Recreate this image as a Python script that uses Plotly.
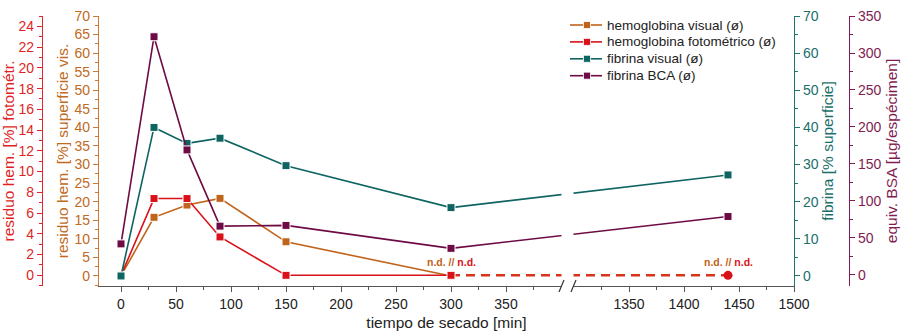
import plotly.graph_objects as go

# ---------------- data ----------------
t_min = [0, 30, 60, 90, 150, 300, 1440]
hem_visual = [0, 15.8, 19.1, 20.9, 9.2, 0]        # % superficie (t up to 300)
hem_foto = [0, 7.4, 7.4, 3.7, 0, 0]               # % fotométr. (t up to 300)
nd_t = [300, 1440]                                # n.d. segment
nd_val = [0, 0]
fib_visual = [0, 40.0, 35.7, 37.1, 29.7, 18.4, 27.2]   # % superficie
fib_bca = [42, 322, 169, 66, 67, 36, 79]               # µg/espécimen

series_names = ["hemoglobina visual (ø)", "hemoglobina fotométrico (ø)",
                "fibrina visual (ø)", "fibrina BCA (ø)"]

x_major = [0, 50, 100, 150, 200, 250, 300, 350, 1350, 1400, 1450, 1500]
x_minor = [25, 75, 125, 175, 225, 275, 325, 375, 1325, 1375, 1425, 1475]

# axis break: 400 ... 1300
BREAK_LO, BREAK_HI, GAP = 400, 1300, 11.8


def brk(v):
    return v if v <= BREAK_LO else v - BREAK_HI + BREAK_LO + GAP


def tx(seq):
    return [brk(v) for v in seq]


ORANGE = "#c0631b"
RED = "#d9121a"
TEAL = "#0e6461"
MAROON = "#6e0b45"
COLORS = [ORANGE, RED, TEAL, MAROON]
FONT = "Liberation Sans, Arial, sans-serif"

mk = dict(symbol="square", size=8, line=dict(color="white", width=1))

fig = go.Figure()
fig.add_trace(go.Scatter(x=tx(t_min[:len(hem_visual)]), y=hem_visual, yaxis="y",
                         mode="lines+markers", name=series_names[0],
                         line=dict(color=ORANGE, width=1.6), marker=dict(color=ORANGE, **mk)))
fig.add_trace(go.Scatter(x=tx(nd_t), y=nd_val, yaxis="y2", mode="lines", showlegend=False,
                         line=dict(color="#d8341c", width=2.6, dash="9px,6px")))
fig.add_trace(go.Scatter(x=tx(t_min[:len(hem_foto)]), y=hem_foto, yaxis="y2",
                         mode="lines+markers", name=series_names[1],
                         line=dict(color=RED, width=1.6), marker=dict(color=RED, **mk)))
fig.add_trace(go.Scatter(x=tx(nd_t[1:]), y=nd_val[1:], yaxis="y2", mode="markers", showlegend=False,
                         marker=dict(color=RED, symbol="circle", size=9)))
fig.add_trace(go.Scatter(x=tx(t_min), y=fib_visual, yaxis="y3",
                         mode="lines+markers", name=series_names[2],
                         line=dict(color=TEAL, width=1.6), marker=dict(color=TEAL, **mk)))
fig.add_trace(go.Scatter(x=tx(t_min), y=fib_bca, yaxis="y4",
                         mode="lines+markers", name=series_names[3],
                         line=dict(color=MAROON, width=1.6), marker=dict(color=MAROON, **mk)))

L, R = 42, 58
W, H = 907, 333
pw = W - L - R
x0 = (99 - L) / pw
x1 = (794 - L) / pw


def yax(color, tcolor, rng, dtick, minor_dtick, title, side, **kw):
    return dict(range=rng, dtick=dtick, tick0=0, showgrid=False, zeroline=False,
                showline=True, linecolor=color, linewidth=1.3,
                ticks="outside", ticklen=5, tickcolor=color, tickwidth=1.2,
                minor=dict(dtick=minor_dtick, tick0=0, ticks="outside", ticklen=3,
                           tickcolor=color, tickwidth=1.2),
                tickfont=dict(family=FONT, size=14, color=tcolor),
                title=dict(text=title, font=dict(family=FONT, size=15.5, color=tcolor)),
                side=side, automargin=False, **kw)


fig.update_layout(
    width=W, height=H,
    margin=dict(l=L, r=R, t=16, b=47),
    paper_bgcolor="white", plot_bgcolor="white",
    font=dict(family=FONT, size=14, color="#222"),
    showlegend=False,
    xaxis=dict(domain=[x0, x1], range=[-20, brk(1500)],
               tickmode="array", tickvals=tx(x_major), ticktext=[str(v) for v in x_major],
               showgrid=False, zeroline=False, showline=True, linecolor="#555", linewidth=1.3,
               ticks="outside", ticklen=5, tickcolor="#555", tickwidth=1.2,
               minor=dict(tickmode="array", tickvals=tx(x_minor), ticks="outside", ticklen=3,
                          tickcolor="#555", tickwidth=1.2),
               tickfont=dict(family=FONT, size=14, color="#222"),
               title=dict(text="tiempo de secado [min]", font=dict(family=FONT, size=15.5, color="#222"),
                          standoff=6),
               automargin=False),
    yaxis=yax("#c97a36", "#c06a22", [-2.7, 70], 5, 2.5,
              "residuo hem. [%] superficie vis.", "left", anchor="x"),
    yaxis2=yax("#e0242a", "#e01f26", [-1.03, 25], 2, 1,
               "residuo hem. [%] fotométr.", "left", anchor="free", position=0, overlaying="y"),
    yaxis3=yax("#1f7470", "#1a6f6c", [-2.7, 70], 10, 5,
               "fibrina [% superficie]", "right", anchor="x", overlaying="y"),
    yaxis4=yax("#7f1d52", "#7f1d52", [-14.9, 350], 50, 25,
               "equiv. BSA [µg/espécimen]", "right", anchor="free", position=1, overlaying="y"),
)

fig.layout.yaxis.title.standoff = 2
fig.layout.yaxis2.title.standoff = 2
fig.layout.yaxis3.title.standoff = 3
fig.layout.yaxis4.title.standoff = 5


def px_x(p):
    return (p - L) / pw


def px_y(p):
    return (286 - p) / 270


# manual legend (compact row spacing as in the reference)
for i, (name, col) in enumerate(zip(series_names, COLORS)):
    yc = 25 + i * 16.9
    fig.add_shape(type="line", xref="paper", yref="paper",
                  x0=px_x(570), x1=px_x(602), y0=px_y(yc), y1=px_y(yc),
                  line=dict(color=col, width=1.6), layer="above")
    fig.add_shape(type="rect", xref="paper", yref="paper",
                  x0=px_x(583.5), x1=px_x(590.5), y0=px_y(yc + 3.5), y1=px_y(yc - 3.5),
                  fillcolor=col, line=dict(color="white", width=0.8), layer="above")
    fig.add_annotation(x=px_x(605), y=px_y(yc), xref="paper", yref="paper",
                       xanchor="left", yanchor="middle", text=name, showarrow=False,
                       font=dict(family=FONT, size=13.5, color="#222"))

# break gap: hide lines and axis line
fig.add_shape(type="rect", xref="paper", yref="paper",
              x0=px_x(561.5), x1=px_x(573.5), y0=px_y(290), y1=px_y(100),
              fillcolor="white", line=dict(width=0), layer="above")
for xa in (559, 571):
    fig.add_shape(type="line", xref="paper", yref="paper",
                  x0=px_x(xa), y0=px_y(292), x1=px_x(xa + 5), y1=px_y(280),
                  line=dict(color="#333", width=1.2), layer="above")

nd_text = ("<b><span style='color:#c0631b'>n.d. //</span> "
           "<span style='color:#d9121a'>n.d.</span></b>")
for xv in nd_t:
    fig.add_annotation(x=brk(xv), y=0, xref="x", yref="y2", text=nd_text, showarrow=False,
                       yshift=13, font=dict(family=FONT, size=10.5))

fig.write_html("out.html")
